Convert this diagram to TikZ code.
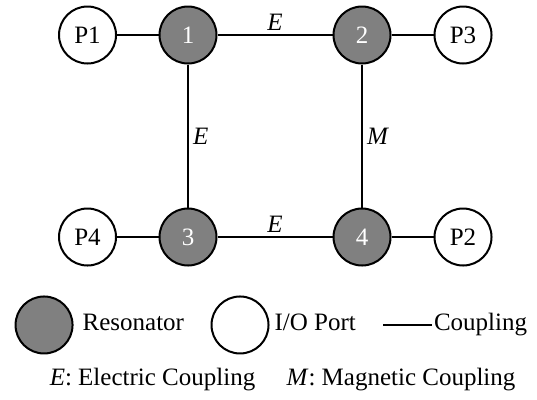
\documentclass[tikz,border=0pt]{standalone}
\usepackage{fontspec}
\setmainfont{Liberation Serif}
\begin{document}
\begin{tikzpicture}[line width=1pt,every node/.style={font=\fontsize{12.5}{15}\selectfont},res/.style={circle,draw,fill=gray,text=white,minimum size=28.5pt,inner sep=0pt},port/.style={circle,draw,fill=white,minimum size=28.5pt,inner sep=0pt},lbl/.style={inner sep=2pt},key/.style={anchor=west,text height=1.6ex,text depth=.4ex}]
\useasboundingbox (-3.304,0.615) rectangle (6.133,-6.397);
\node[port] (p1) at (-1.766,0) {P1};
\node[res] (r1) at (0,0) {1};
\node[res] (r2) at (3.058,0) {2};
\node[port] (p3) at (4.833,0) {P3};
\node[port] (p4) at (-1.766,-3.55) {P4};
\node[res] (r3) at (0,-3.55) {3};
\node[res] (r4) at (3.058,-3.55) {4};
\node[port] (p2) at (4.833,-3.55) {P2};
\draw (p1)--(r1);\draw (r2)--(p3);\draw (p4)--(r3);\draw (r4)--(p2);
\draw (r1)--node[lbl,above]{\textit{E}}(r2);
\draw (r1)--node[lbl,right]{\textit{E}}(r3);
\draw (r2)--node[lbl,right]{\textit{M}}(r4);
\draw (r3)--node[lbl,above]{\textit{E}}(r4);
% legend
\node[res] (lr) at (-2.53,-5.096) {};
\node[key] (lrt) at (-1.986,-5.096) {Resonator};
\node[port] (lp) at (0.914,-5.096) {};
\node[key] (lpt) at (1.388,-5.096) {I/O Port};
\coordinate (lc) at (3.427,-5.096);
\node[key,inner xsep=0.5pt] (lct) at (4.288,-5.096) {Coupling};
\draw (lc)--(lct.west);
\node (le) at (-0.624,-6.063) {\textit{E}: Electric Coupling};
\node (lm) at (3.743,-6.063) {\textit{M}: Magnetic Coupling};
\end{tikzpicture}
\end{document}
